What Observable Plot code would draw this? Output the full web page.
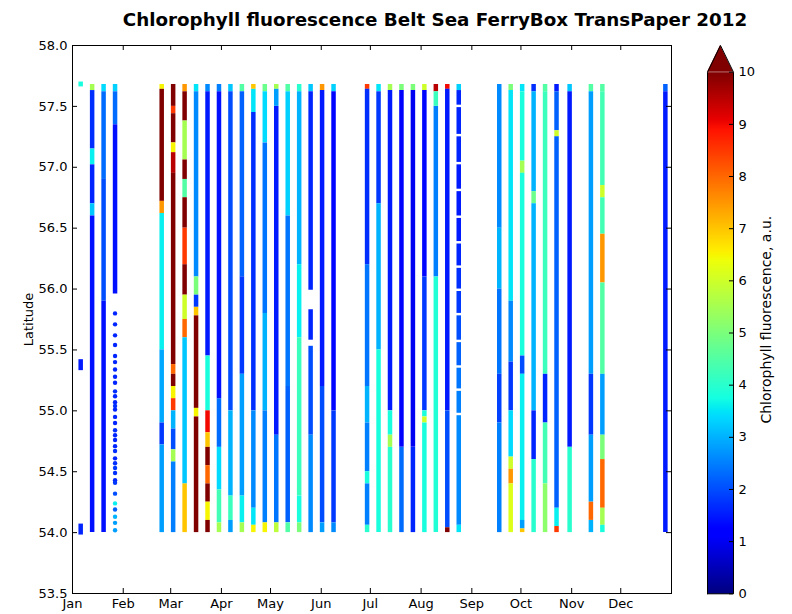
<!DOCTYPE html>
<html>
<head>
<meta charset="utf-8">
<script src="https://cdn.jsdelivr.net/npm/d3@7"></script>
<script src="https://cdn.jsdelivr.net/npm/@observablehq/plot@0.6"></script>
<style>
  body { margin: 0; background: #fff; }
  #wrap { position: relative; width: 792px; height: 614px; font-family: "DejaVu Sans", sans-serif; }
  #wrap svg { position: absolute; left: 0; top: 0; }
  #title { position: absolute; left: 0; width: 870px; top: 9px; text-align: center; font: bold 18.3px "DejaVu Sans", sans-serif; color: #000; line-height: 22px; white-space: nowrap; }
</style>
</head>
<body>
<div id="wrap"><div id="title">Chlorophyll fluorescence Belt Sea FerryBox TransPaper 2012</div></div>
<script>
// ---------------- data ----------------
const titleText = "Chlorophyll fluorescence Belt Sea FerryBox TransPaper 2012";
const yLabel = "Latitude";
const colorLabel = "Chlorophyll fluorescence, a.u.";
const monthTicks = ["2012-01-01","2012-02-01","2012-03-01","2012-04-01","2012-05-01","2012-06-01",
  "2012-07-01","2012-08-01","2012-09-01","2012-10-01","2012-11-01","2012-12-01"];
const latTicks = [53.5, 54.0, 54.5, 55.0, 55.5, 56.0, 56.5, 57.0, 57.5, 58.0];
const colorTicks = [0,1,2,3,4,5,6,7,8,9,10];

// crossing dates (one ferry transect per date)
const trackDates = [
  "2012-01-06","2012-01-13","2012-01-20","2012-01-27",
  "2012-02-24T12:00Z","2012-03-02T12:00Z","2012-03-09T12:00Z","2012-03-16T12:00Z","2012-03-23T12:00Z",
  "2012-03-30T12:00Z","2012-04-06T12:00Z","2012-04-13T12:00Z","2012-04-20T12:00Z","2012-04-27T12:00Z",
  "2012-05-04T12:00Z","2012-05-11T12:00Z","2012-05-18T12:00Z","2012-05-25T12:00Z","2012-06-01T12:00Z",
  "2012-06-08T12:00Z",
  "2012-06-29","2012-07-06","2012-07-13","2012-07-20","2012-07-27","2012-08-03","2012-08-10",
  "2012-08-17","2012-08-24",
  "2012-09-17T18:00Z","2012-09-24T18:00Z","2012-10-01T18:00Z","2012-10-08T18:00Z","2012-10-15T18:00Z",
  "2012-10-22T18:00Z","2012-10-30T18:00Z","2012-11-12T18:00Z","2012-11-19T18:00Z",
  "2012-12-28T06:00Z"
];

// per transect: [latitude where a stretch starts (north end), fluorescence along it down to the next latitude]
// null = no data
const trackSegments = [
  [[57.70,3.8],[57.66,null],[55.42,1.5],[55.33,null],[54.07,1.6],[53.98,null]],
  [[57.68,5.5],[57.63,1.7],[57.15,3.6],[57.02,1.6],[56.70,3.2],[56.60,1.4],[54.0,null]],
  [[57.68,3.4],[57.62,2.3],[56.9,2.0],[55.9,1.4],[54.0,null]],
  [[57.68,3.3],[57.62,2.3],[57.35,1.4],[55.96,null]],
  [[57.68,6.5],[57.64,10.5],[56.72,7.5],[56.62,3.6],[55.5,2.9],[54.9,1.8],[54.72,2.8],[54.0,null]],
  [[57.68,10],[57.5,8.5],[57.44,10.5],[57.2,6.5],[57.12,9.5],[56.95,10.5],[55.38,8],[55.3,10],[55.2,6.5],[55.1,8.5],[55.0,3],[54.85,2],[54.68,5.5],[54.58,2.5],[54.0,null]],
  [[57.68,7.5],[57.62,10.5],[57.38,5.5],[57.06,10.5],[56.9,4.5],[56.75,10.5],[56.5,8.5],[56.2,10],[55.95,6],[55.75,8],[55.6,3.2],[54.4,7],[54.0,null]],
  [[57.68,3.5],[57.62,2.6],[56.1,5],[55.95,1.8],[55.85,7],[55.78,10.5],[55.02,6.5],[54.95,10.5],[54.0,null]],
  [[57.68,2.6],[57.62,1.5],[55.45,3.8],[55.0,9],[54.82,7],[54.7,10.5],[54.55,8],[54.4,10],[54.25,6.5],[54.1,10.5],[54.0,null]],
  [[57.68,2.5],[57.62,1.4],[55.1,2.3],[54.7,3.4],[54.35,4.3],[54.08,5.5],[54.0,null]],
  [[57.68,3.2],[57.62,2.0],[55.0,3.0],[54.3,4.2],[54.1,2.8],[54.0,null]],
  [[57.68,4.5],[57.62,2.2],[56.1,1.8],[55.3,2.8],[54.3,3.6],[54.08,5.5],[54.0,null]],
  [[57.68,7],[57.64,3.5],[57.45,1.7],[55.0,2.6],[54.2,3.5],[54.06,6.5],[54.0,null]],
  [[57.68,4.8],[57.62,3.4],[57.2,2.4],[55.8,3.0],[55.0,2.5],[54.08,6.5],[54.0,null]],
  [[57.68,5.5],[57.64,2.8],[57.5,1.5],[54.8,2.4],[54.08,5.8],[54.0,null]],
  [[57.68,4.5],[57.62,3.3],[56.6,2.4],[55.2,2.2],[54.08,4.5],[54.0,null]],
  [[57.68,4.0],[57.62,3.0],[56.2,3.6],[55.6,4.2],[54.3,3.8],[54.08,5.0],[54.0,null]],
  [[57.68,3.2],[57.62,1.6],[55.99,null],[55.83,1.6],[55.58,null],[55.53,2.0],[54.8,2.6],[54.0,null]],
  [[57.68,7.5],[57.63,1.5],[55.2,2.0],[54.08,2.8],[54.0,null]],
  [[57.68,3.3],[57.62,1.3],[55.0,1.8],[54.08,2.6],[54.0,null]],
  [[57.68,8.5],[57.64,1.7],[56.2,2.4],[55.2,3.0],[54.9,2.5],[54.5,3.8],[54.4,2.5],[54.06,4],[54.0,null]],
  [[57.68,3.5],[57.62,1.8],[56.7,3.0],[55.5,3.8],[54.0,null]],
  [[57.68,5.5],[57.63,1.5],[55.0,3.8],[54.8,5.5],[54.7,4.0],[54.0,null]],
  [[57.68,5],[57.63,1.2],[54.7,2.3],[54.0,null]],
  [[57.68,5],[57.63,1.0],[54.7,1.6],[54.0,null]],
  [[57.68,6],[57.63,1.3],[56.1,1.8],[55.0,3.8],[54.95,6],[54.9,3.8],[54.0,null]],
  [[57.68,9.5],[57.62,4.2],[57.5,2.5],[56.1,3.9],[54.0,null]],
  [[57.68,9],[57.64,1.5],[55.0,2.0],[54.04,10],[54.0,null]],
  [[57.68,3.3],[57.63,1.6],[57.51,null],[57.49,1.6],[57.27,null],[57.25,1.6],[57.04,null],[57.02,1.5],
   [56.82,null],[56.80,1.5],[56.60,null],[56.58,1.5],[56.39,null],[56.37,1.6],[56.19,null],[56.17,1.7],
   [56.00,null],[55.98,1.8],[55.80,null],[55.78,2.0],[55.58,null],[55.56,2.2],[55.37,null],[55.35,2.4],
   [55.18,null],[55.16,2.5],[54.98,null],[54.96,2.6],[54.06,3.5],[54.0,null]],
  [[57.68,2.6],[56.5,3.0],[56.0,2.4],[55.3,1.9],[54.9,2.5],[54.0,null]],
  [[57.68,5],[57.63,3.5],[55.9,2.6],[55.4,1.8],[55.0,3.4],[54.62,6],[54.52,7.5],[54.4,6.2],[54.0,null]],
  [[57.68,3.5],[57.62,3.8],[57.05,5.5],[56.95,3.8],[55.45,2.0],[55.3,3.6],[54.1,2.8],[54.03,7],[54.0,null]],
  [[57.68,1.7],[57.62,3.0],[56.8,4.8],[56.7,3.0],[55.0,1.6],[54.6,4.0],[54.0,null]],
  [[57.68,4.5],[57.62,4.2],[55.3,1.6],[54.9,4.3],[54.4,5.2],[54.0,null]],
  [[57.68,1.5],[57.62,2.2],[57.3,6],[57.25,2.2],[54.2,3.6],[54.05,8.5],[54.0,null]],
  [[57.68,3.2],[57.62,1.5],[54.7,4.0],[54.0,null]],
  [[57.68,4.5],[57.62,2.8],[55.3,1.8],[54.8,2.8],[54.25,8],[54.1,3],[54.0,null]],
  [[57.68,4.5],[57.62,4.3],[56.85,6],[56.75,4.3],[56.45,7.5],[56.05,4.5],[55.3,2.8],[54.8,5],[54.6,8],[54.2,5.5],[54.06,3.8],[54.0,null]],
  [[57.68,2.2],[57.62,1.5],[54.0,null]]
];

// sparse single readings on the 27 Jan transect
const sparseDate = "2012-01-27";
const sparseLats = [55.80,55.71,55.62,55.54,55.45,55.40,55.34,55.28,55.23,55.16,55.12,55.07,55.04,55.01,
  54.95,54.90,54.84,54.80,54.76,54.71,54.67,54.61,54.57,54.53,54.49,54.43,54.41,54.32,54.24,54.19,54.13,54.08,54.02];
const sparseValues = [1.6,1.6,1.6,1.6,1.6,1.6,1.6,1.6,1.6,1.7,1.6,1.6,1.7,1.6,
  1.6,1.6,1.7,1.6,1.6,1.6,1.7,1.6,1.7,1.8,1.7,1.6,1.8,2.0,3.6,2.2,3.0,2.8,2.8];

// ---------------- colour map (matplotlib "jet") ----------------
const jetR = [[0,0],[0.35,0],[0.66,1],[0.89,1],[1,0.5]];
const jetG = [[0,0],[0.125,0],[0.375,1],[0.64,1],[0.91,0],[1,0]];
const jetB = [[0,0.5],[0.11,1],[0.34,1],[0.65,0],[1,0]];
function pw(s, t) {
  t = Math.max(0, Math.min(1, t));
  for (let i = 1; i < s.length; i++) {
    if (t <= s[i][0]) { const [t0, v0] = s[i-1], [t1, v1] = s[i]; return v0 + (v1 - v0) * (t - t0) / (t1 - t0); }
  }
  return s[s.length-1][1];
}
const jet = t => d3.rgb(255*pw(jetR,t), 255*pw(jetG,t), 255*pw(jetB,t)).formatHex();
const colorScale = {type: "linear", domain: [0, 10], interpolate: jet, clamp: true};

// ---------------- build mark tables ----------------
const segs = [];
trackDates.forEach((d, i) => {
  const s = trackSegments[i];
  for (let j = 0; j < s.length - 1; j++) {
    if (s[j][1] == null) continue;
    segs.push({date: new Date(d), lat1: s[j][0], lat2: s[j+1][0], v: s[j][1]});
  }
});
const sparse = sparseLats.map((lat, i) => ({date: new Date(sparseDate), lat, v: sparseValues[i]}));

const W = 792, H = 614;
const mL = 72, mR = W - 671, mT = 45, mB = H - 593;
const plotW = W - mL - mR, plotH = H - mT - mB;
const months = monthTicks.map(d => new Date(d));
const font = {fontFamily: "DejaVu Sans, sans-serif", fontSize: "13px", background: "transparent", color: "#000"};

const main = Plot.plot({
  width: W, height: H,
  marginLeft: mL, marginRight: mR, marginTop: mT, marginBottom: mB,
  x: {type: "utc", domain: [new Date("2012-01-01"), new Date("2013-01-01")]},
  y: {domain: [53.5, 58.0]},
  color: colorScale,
  style: font,
  marks: [
    Plot.ruleX(segs, {x: "date", y1: "lat1", y2: "lat2", stroke: "v", strokeWidth: 4.5, strokeLinecap: "butt"}),
    Plot.dot(sparse, {x: "date", y: "lat", fill: "v", r: 2.2, stroke: null}),
    Plot.frame({stroke: "#000", strokeWidth: 1}),
    Plot.tickX(months, {x: d => d, insetTop: plotH - 5, stroke: "#000"}),
    Plot.tickX(months, {x: d => d, insetBottom: plotH - 5, stroke: "#000"}),
    Plot.tickY(latTicks, {y: d => d, insetRight: plotW - 5, stroke: "#000"}),
    Plot.tickY(latTicks, {y: d => d, insetLeft: plotW - 5, stroke: "#000"}),
    Plot.axisX(months, {anchor: "bottom", tickSize: 0, tickPadding: 5, tickFormat: d3.utcFormat("%b"), fontSize: 13, label: null}),
    Plot.axisY(latTicks, {anchor: "left", tickSize: 0, tickPadding: 5, tickFormat: d => d.toFixed(1), fontSize: 13, label: null}),
    Plot.text([yLabel], {text: d => d, frameAnchor: "left", textAnchor: "middle", rotate: -90, dx: -44, fontSize: 13})
  ]
});

// colour bar
const cbTop = 10 + (71.7 - 45) / ((593.3 - 71.7) / 10);
const cb = Plot.plot({
  width: W, height: H,
  marginLeft: 707, marginRight: W - 733, marginTop: 45, marginBottom: H - 593.3,
  x: {domain: [0, 1], axis: null},
  y: {domain: [0, cbTop], axis: null},
  color: colorScale,
  style: font,
  marks: [
    Plot.raster({x1: 0, x2: 1, y1: 0, y2: 10, fill: (x, y) => y, pixelSize: 1, imageRendering: "auto"}),
    Plot.areaX([{y: 10, x1: 0, x2: 1}, {y: cbTop, x1: 0.5, x2: 0.5}], {y: "y", x1: "x1", x2: "x2", fill: jet(1)}),
    Plot.line([[0,0],[0,10],[0.5,cbTop],[1,10],[1,0],[0,0]], {x: d => d[0], y: d => d[1], stroke: "#000", strokeWidth: 1, curve: "linear"}),
    Plot.tickY(colorTicks, {y: d => d, insetLeft: 22, stroke: "#000"}),
    Plot.axisY(colorTicks, {anchor: "right", tickSize: 0, tickPadding: 5, fontSize: 13, tickFormat: d => String(d), label: null}),
    Plot.text([colorLabel], {text: d => d, frameAnchor: "right", textAnchor: "middle", rotate: -90, dx: 33, fontSize: 14})
  ]
});

const wrap = document.getElementById("wrap");
wrap.appendChild(main);
wrap.appendChild(cb);
</script>
</body>
</html>
